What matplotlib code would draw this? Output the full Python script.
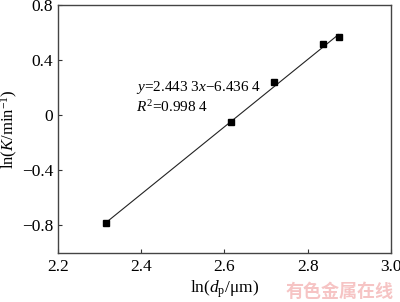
import matplotlib
matplotlib.use("Agg")
import matplotlib.pyplot as plt
import numpy as np

x_vals = [2.3145, 2.616, 2.719, 2.837, 2.874]
y_vals = [-0.780, -0.051, 0.239, 0.517, 0.570]
slope = 2.4433
intercept = -6.4364
xticks = [2.2, 2.4, 2.6, 2.8, 3.0]
xtick_labels = ["2.2", "2.4", "2.6", "2.8", "3.0"]
yticks = [-0.8, -0.4, 0.0, 0.4, 0.8]
ytick_labels = ["\u22120.8", "\u22120.4", "0", "0.4", "0.8"]

plt.rcParams['font.family'] = ['Liberation Serif', 'DejaVu Serif']
plt.rcParams['mathtext.fontset'] = 'custom'
plt.rcParams['mathtext.rm'] = 'Liberation Serif'
plt.rcParams['mathtext.it'] = 'Liberation Serif:italic'

fig = plt.figure(figsize=(4.0, 3.02), dpi=100)
ax = fig.add_axes([0.145, 0.1623, 0.8325, 0.8212])

xs = np.array([min(x_vals), max(x_vals)])
ax.plot(xs, slope * xs + intercept, color='#222222', lw=0.8)
ax.plot(x_vals, y_vals, 's', color='black', ms=4.8)

ax.set_xlim(2.2, 3.0)
ax.set_ylim(-1.0, 0.8)
ax.set_xticks(xticks)
ax.set_xticklabels(xtick_labels)
ax.set_yticks(yticks)
ax.set_yticklabels(ytick_labels)
ax.tick_params(direction='in', length=3, width=0.8, labelsize=12.5, color='#333333',
               top=False, right=False)
ax.tick_params(axis='x', pad=4)
for s in ax.spines.values():
    s.set_color('#444444')
    s.set_linewidth(1.0)

ax.set_xlabel('ln($d_{\\rm p}$/\u03bcm)', fontsize=12.5, labelpad=3)
ax.set_ylabel('ln($K$/min$^{\\mathregular{\u22121}}$)', fontsize=12, labelpad=1)

ax.text(2.387, 0.198, '$y$=2.443 3$x$\u22126.436 4', fontsize=11, va='center', ha='left')
ax.text(2.387, 0.06, '$R^2$=0.998 4', fontsize=11, va='center', ha='left')

fig.text(0.985, 0.035, '有色金属在线', fontsize=13, color='#f6c4c4', ha='right', va='center',
         family=['Noto Sans CJK SC', 'DejaVu Sans'], fontweight='bold')

fig.savefig('out.png', dpi=100)
